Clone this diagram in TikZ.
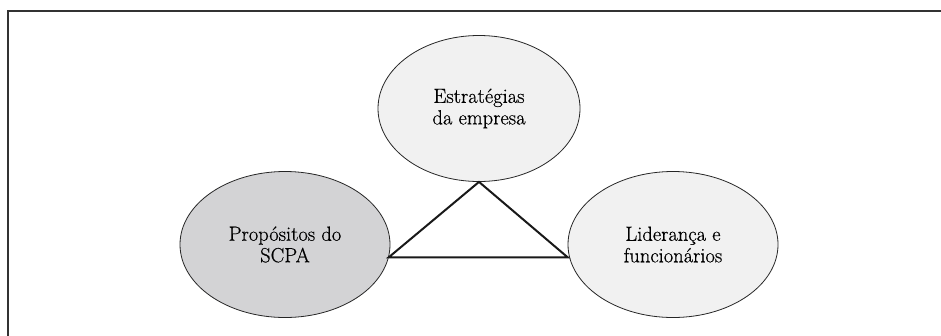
\documentclass[tikz,border=0pt]{standalone}
\usepackage{fontspec}
\setmainfont{Latin Modern Roman}[FakeBold=0.5]
\usepackage{xcolor}
\definecolor{cinzaclaro}{RGB}{241, 241, 241}
\definecolor{cinzaescuro}{RGB}{211, 211, 213}
\definecolor{moldura}{RGB}{51, 51, 51}
\usepackage{tikz}
\usetikzlibrary{positioning, shapes.geometric}

\begin{document}
\begin{tikzpicture}[
    x=1pt, y=-1pt,
    every node/.style={align=center},
    bolha/.style={ellipse, draw=black!85, line width=0.8pt, fill=cinzaclaro, inner sep=0pt, minimum width=210pt, minimum height=146pt, font=\fontsize{20.5}{21.5}\selectfont},
    destaque/.style={bolha, fill=cinzaescuro},
    linha/.style={line width=2pt, black!90},
    quadro/.style={line width=2pt, moldura}
]
\useasboundingbox (0,0) rectangle (941,335);

% Frame
\draw[quadro] (8,336) -- (8,11) -- (942,11);

% Nodes
\node[bolha, minimum width=202pt] (estrategias) at (479,108.5) {Estratégias\\da empresa};
\node[destaque] (propositos) at (285,244.5) {Propósitos do\\SCPA};
\node[bolha] (lideranca) at (673,244.5) {Liderança e\\funcionários};

% Connections
\draw[linha] (estrategias.south) -- (propositos.-7.5) -- (lideranca.west |- propositos.-7.5) -- cycle;

\end{tikzpicture}
\end{document}
